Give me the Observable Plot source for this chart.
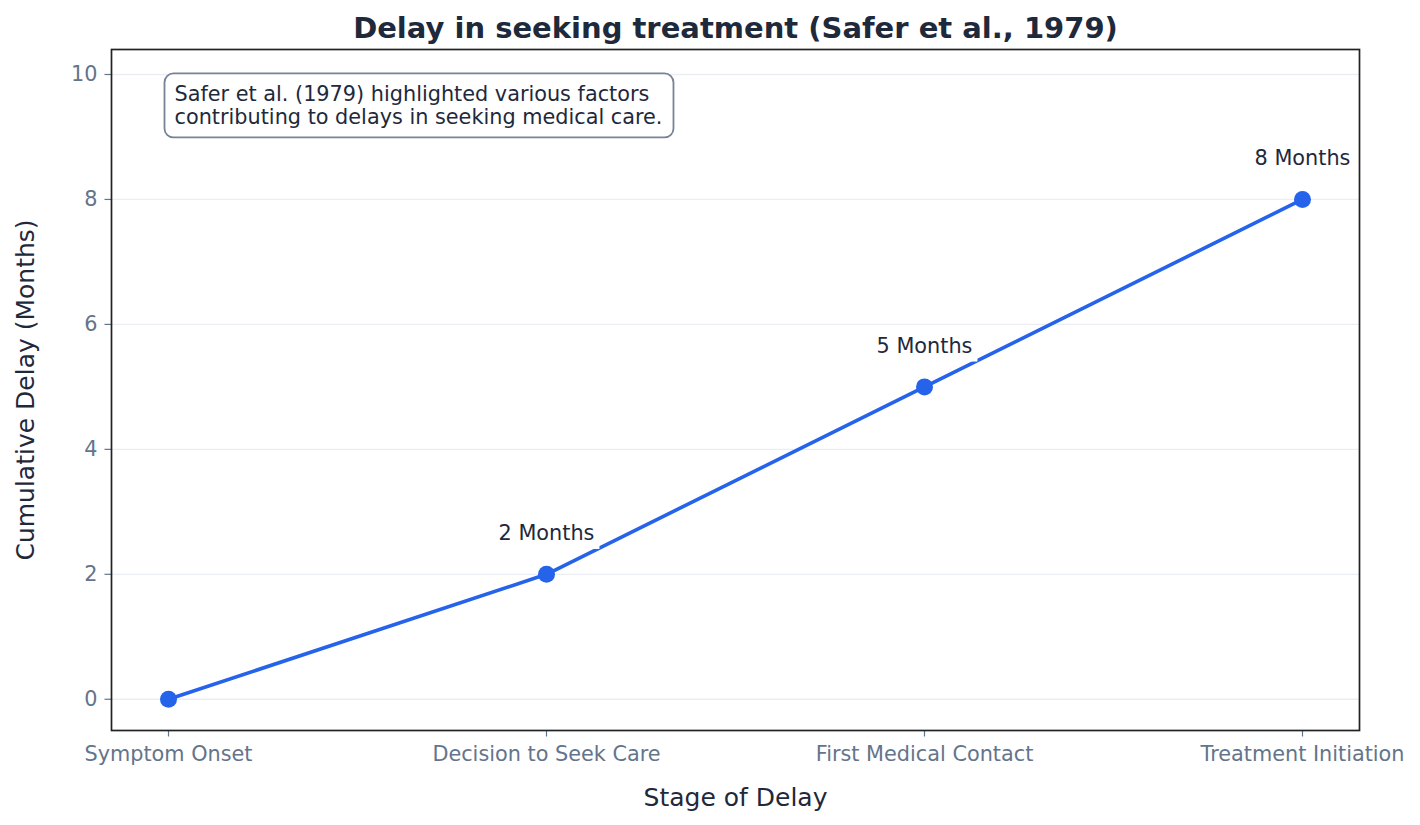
<!DOCTYPE html>
<html>
<head>
<meta charset="utf-8">
<script src="https://cdn.jsdelivr.net/npm/d3@7"></script>
<script src="https://cdn.jsdelivr.net/npm/@observablehq/plot@0.6"></script>
<style>
  html, body { margin: 0; padding: 0; background: #fff; }
  body { font-family: "DejaVu Sans", sans-serif; }
</style>
</head>
<body>
<script>
const stages = ["Symptom Onset", "Decision to Seek Care", "First Medical Contact", "Treatment Initiation"];
const delays = [0, 2, 5, 8];
const yTicks = [0, 2, 4, 6, 8, 10];
const titleText = "Delay in seeking treatment (Safer et al., 1979)";
const xLabel = "Stage of Delay";
const yLabel = "Cumulative Delay (Months)";
const noteText = "Safer et al. (1979) highlighted various factors\ncontributing to delays in seeking medical care.";

const data = stages.map((s, i) => ({stage: s, delay: delays[i]}));
const labelled = data.filter(d => d.delay > 0);

const dark = "#1e293b";
const gray = "#64748b";
const blue = "#2563eb";

const chart = Plot.plot({
  width: 1420,
  height: 825,
  marginTop: 49,
  marginBottom: 95,
  marginLeft: 111,
  marginRight: 61,
  style: {fontFamily: "DejaVu Sans, sans-serif", fontSize: "20.8px", background: "#fff", overflow: "visible"},
  x: {type: "point", domain: stages, padding: 0.15},
  y: {domain: [-0.5, 10.4]},
  marks: [
    Plot.gridY(yTicks, {stroke: "#eaeef4", strokeOpacity: 1, strokeWidth: 1.3}),
    Plot.axisY({ticks: yTicks, tickSize: 6.5, tickPadding: 7.5, label: null, fontSize: "20.8px", stroke: gray, fill: gray, strokeWidth: 1.2}),
    Plot.axisX({tickSize: 6.5, tickPadding: 9, label: null, fontSize: "20.8px", stroke: gray, fill: gray, strokeWidth: 1.2}),
    Plot.line(data, {x: "stage", y: "delay", stroke: blue, strokeWidth: 3.6}),
    Plot.dot(data, {x: "stage", y: "delay", r: 8.5, fill: blue, stroke: "none"}),
    Plot.text(labelled, {x: "stage", y: "delay", text: d => `${d.delay} Months`, dy: -41, fill: dark, fontSize: "20.8px", ariaLabel: "pt-label"}),
    Plot.text([noteText], {frameAnchor: "top-left", dx: 63, dy: 55.5, textAnchor: "start", lineAnchor: "middle", lineHeight: 1.12, fill: dark, fontSize: "20.8px", ariaLabel: "note"}),
    Plot.frame({stroke: "#222", strokeWidth: 1.7}),
    Plot.text([titleText], {frameAnchor: "top", dy: -21, textAnchor: "middle", lineAnchor: "middle", fontSize: "29px", fontWeight: "bold", fill: dark}),
    Plot.text([xLabel], {frameAnchor: "bottom", dy: 67, textAnchor: "middle", lineAnchor: "middle", fontSize: "25px", fill: dark}),
    Plot.text([yLabel], {frameAnchor: "left", dx: -86, rotate: -90, textAnchor: "middle", lineAnchor: "middle", fontSize: "25px", fill: dark})
  ]
});
document.body.append(chart);

const ns = "http://www.w3.org/2000/svg";
function boxBehind(t, padL, padR, padT, padB, attrs) {
  const b = t.getBBox();
  const r = document.createElementNS(ns, "rect");
  r.setAttribute("x", b.x - padL);
  r.setAttribute("y", b.y - padT);
  r.setAttribute("width", b.width + padL + padR);
  r.setAttribute("height", b.height + padT + padB);
  const tr = t.getAttribute("transform");
  if (tr) r.setAttribute("transform", tr);
  for (const k in attrs) r.setAttribute(k, attrs[k]);
  t.parentNode.insertBefore(r, t);
}
const texts = Array.from(chart.querySelectorAll("text"));
for (const t of texts) {
  const s = t.textContent;
  if (/^\d+ Months$/.test(s)) {
    boxBehind(t, 4, 5, 2, 4, {fill: "#fff", stroke: "none"});
  } else if (s.startsWith("Safer et al. (1979)")) {
    const b = t.getBBox();
    const cy = b.y + b.height / 2;
    const r = document.createElementNS(ns, "rect");
    r.setAttribute("x", b.x - 10);
    r.setAttribute("y", cy - 32);
    r.setAttribute("width", b.width + 21);
    r.setAttribute("height", 64);
    r.setAttribute("rx", 9);
    r.setAttribute("ry", 9);
    r.setAttribute("fill", "#fff");
    r.setAttribute("fill-opacity", 0.9);
    r.setAttribute("stroke", "#778397");
    r.setAttribute("stroke-width", 1.8);
    const tr = t.getAttribute("transform");
    if (tr) r.setAttribute("transform", tr);
    t.parentNode.insertBefore(r, t);
  }
}
</script>
</body>
</html>
